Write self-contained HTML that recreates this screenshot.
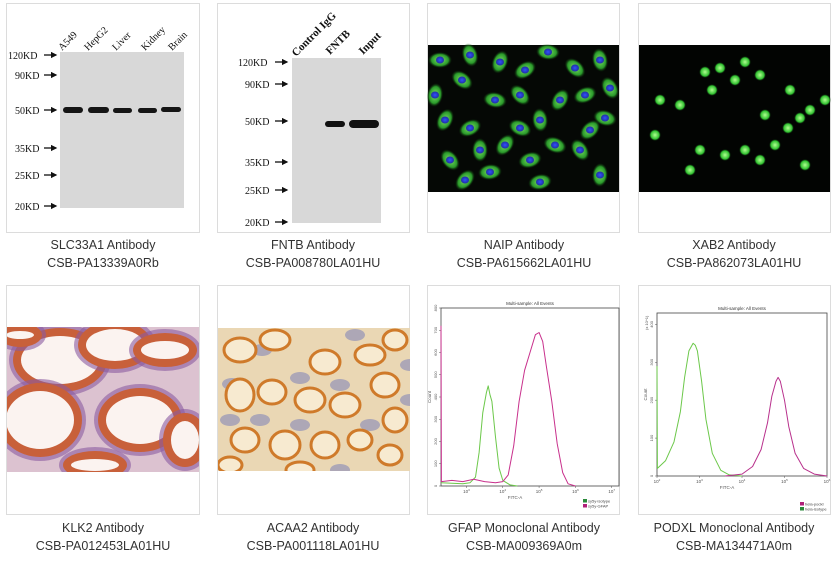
<!DOCTYPE html>
<html><head><meta charset="utf-8"><style>
body{margin:0;width:835px;height:570px;background:#fff;position:relative;overflow:hidden;font-family:"Liberation Sans",sans-serif}
.card{position:absolute;border:1px solid #dcdcdc;box-sizing:border-box;background:#fff}
.cap{position:absolute;width:210px;text-align:center;font-size:12.5px;line-height:18px;color:#333}
svg{position:absolute;left:0;top:0}
</style></head><body>
<div class="card" style="left:6px;top:3px;width:194px;height:230px"></div>
<div class="card" style="left:217px;top:3px;width:193px;height:230px"></div>
<div class="card" style="left:427px;top:3px;width:193px;height:230px"></div>
<div class="card" style="left:638px;top:3px;width:193px;height:230px"></div>
<div class="card" style="left:6px;top:285px;width:194px;height:230px"></div>
<div class="card" style="left:217px;top:285px;width:193px;height:230px"></div>
<div class="card" style="left:427px;top:285px;width:193px;height:230px"></div>
<div class="card" style="left:638px;top:285px;width:193px;height:230px"></div>

<div class="cap" style="left:-2px;top:236px">SLC33A1 Antibody<br>CSB-PA13339A0Rb</div>
<div class="cap" style="left:208px;top:236px">FNTB Antibody<br>CSB-PA008780LA01HU</div>
<div class="cap" style="left:419px;top:236px">NAIP Antibody<br>CSB-PA615662LA01HU</div>
<div class="cap" style="left:629px;top:236px">XAB2 Antibody<br>CSB-PA862073LA01HU</div>
<div class="cap" style="left:-2px;top:519px">KLK2 Antibody<br>CSB-PA012453LA01HU</div>
<div class="cap" style="left:208px;top:519px">ACAA2 Antibody<br>CSB-PA001118LA01HU</div>
<div class="cap" style="left:419px;top:519px">GFAP Monoclonal Antibody<br>CSB-MA009369A0m</div>
<div class="cap" style="left:629px;top:519px">PODXL Monoclonal Antibody<br>CSB-MA134471A0m</div>

<svg id="s" width="835" height="570" font-family="Liberation Serif, serif">
<defs>
<marker id="ar" markerWidth="5" markerHeight="5" refX="4" refY="2.5" orient="auto"><path d="M0,0L5,2.5L0,5z" fill="#111"/></marker>
<radialGradient id="gc"><stop offset="0" stop-color="#7fe06a"/><stop offset="0.7" stop-color="#2a9a2a"/><stop offset="1" stop-color="#0a300a" stop-opacity="0"/></radialGradient>
<radialGradient id="gn"><stop offset="0" stop-color="#b0ff90"/><stop offset="0.7" stop-color="#30c030"/><stop offset="1" stop-color="#082008" stop-opacity="0"/></radialGradient>
<radialGradient id="bn"><stop offset="0" stop-color="#3050ff"/><stop offset="1" stop-color="#2030a0"/></radialGradient>
</defs>
<g>
<rect x="60" y="52" width="124" height="156" fill="#d8d8d8"/>
<g font-size="10" fill="#111">
<text x="8" y="59">120KD</text><text x="15" y="79">90KD</text><text x="15" y="114">50KD</text><text x="15" y="152">35KD</text><text x="15" y="179">25KD</text><text x="15" y="210">20KD</text>
</g>
<g stroke="#111" stroke-width="1.3" marker-end="url(#ar)">
<line x1="44" y1="55" x2="56" y2="55"/><line x1="44" y1="75" x2="56" y2="75"/><line x1="44" y1="110" x2="56" y2="110"/><line x1="44" y1="148" x2="56" y2="148"/><line x1="44" y1="175" x2="56" y2="175"/><line x1="44" y1="206" x2="56" y2="206"/>
</g>
<g font-size="10" fill="#111">
<text transform="translate(62,51) rotate(-45)">A549</text><text transform="translate(88,51) rotate(-45)">HepG2</text><text transform="translate(116,51) rotate(-45)">Liver</text><text transform="translate(145,51) rotate(-45)">Kidney</text><text transform="translate(172,51) rotate(-45)">Brain</text>
</g>
<g fill="#151515"><rect x="63" y="107" width="20" height="6" rx="3"/><rect x="88" y="107" width="21" height="6" rx="3"/><rect x="113" y="108" width="19" height="5" rx="2.5"/><rect x="138" y="108" width="19" height="5" rx="2.5"/><rect x="161" y="107" width="20" height="5" rx="2.5"/></g>
</g>
<g>
<rect x="292" y="58" width="89" height="165" fill="#d8d8d8"/>
<g font-size="10" fill="#111">
<text x="238" y="66">120KD</text><text x="245" y="88">90KD</text><text x="245" y="125">50KD</text><text x="245" y="166">35KD</text><text x="245" y="194">25KD</text><text x="245" y="226">20KD</text>
</g>
<g stroke="#111" stroke-width="1.3" marker-end="url(#ar)">
<line x1="275" y1="62" x2="287" y2="62"/><line x1="275" y1="84" x2="287" y2="84"/><line x1="275" y1="121" x2="287" y2="121"/><line x1="275" y1="162" x2="287" y2="162"/><line x1="275" y1="190" x2="287" y2="190"/><line x1="275" y1="222" x2="287" y2="222"/>
</g>
<g font-size="11" font-weight="bold" fill="#111">
<text transform="translate(296,57) rotate(-45)">Control IgG</text><text transform="translate(330,55) rotate(-45)">FNTB</text><text transform="translate(363,55) rotate(-45)">Input</text>
</g>
<g fill="#111"><rect x="325" y="121" width="20" height="6" rx="3"/><rect x="349" y="120" width="30" height="8" rx="4"/></g>
</g>
<rect x="428" y="45" width="191" height="147" fill="#050805"/>
<g id="naip"></g>
<rect x="639" y="45" width="191" height="147" fill="#020402"/>
<g id="xab2"></g>
<clipPath id="c5"><rect x="7" y="327" width="192" height="145"/></clipPath>
<clipPath id="c6"><rect x="218" y="328" width="192" height="143"/></clipPath>
<g clip-path="url(#c5)">
<rect x="7" y="327" width="192" height="145" fill="#dcc2d0"/>
<g id="ihc1"></g>
</g>
<g clip-path="url(#c6)">
<rect x="218" y="328" width="192" height="143" fill="#ead7b4"/>
<g id="ihc2"></g>
</g>
<g id="charts" font-family="Liberation Sans, sans-serif"></g>
</svg>
<script>
// GFAP histogram data (log10 FITC, count)
const gfapIsoX=[2.3,2.6,2.9,3.1,3.25,3.35,3.45,3.55,3.6,3.65,3.7,3.8,3.9,4.0,4.2,4.4];
const gfapIsoY=[15,12,10,15,40,150,330,420,450,410,380,220,80,25,5,0];
const gfapPosX=[2.3,2.31,2.6,2.9,3.2,3.5,3.8,4.0,4.15,4.3,4.45,4.6,4.75,4.9,5.0,5.1,5.2,5.35,5.5,5.65,5.8,6.0];
const gfapPosY=[720,20,25,20,30,20,15,20,50,180,380,520,600,680,690,650,540,380,190,60,10,0];
const gfapYTicks=[0,100,200,300,400,500,600,700,800];
const gfapXTicks=[3,4,5,6,7];
// PODXL histogram data
const podIsoX=[2.0,2.01,2.2,2.4,2.55,2.65,2.75,2.85,2.9,2.95,3.05,3.15,3.3,3.5,3.7,4.0];
const podIsoY=[290,20,40,90,170,260,330,350,345,330,250,150,60,15,3,0];
const podPosX=[3.6,4.0,4.25,4.45,4.6,4.7,4.8,4.85,4.9,5.0,5.1,5.25,5.45,5.7,6.0];
const podPosY=[0,5,25,70,140,210,250,260,250,200,130,60,20,5,0];
const podYTicks=[0,100,200,300,400];
const podXTicks=[2,3,4,5,6];
const NS='http://www.w3.org/2000/svg';
const charts=document.getElementById('charts');
function mk(tag,attrs,parent){const e=document.createElementNS(NS,tag);for(const k in attrs)e.setAttribute(k,attrs[k]);(parent||charts).appendChild(e);return e;}
function hist(cfg){
  const g=mk('g',{});
  
  
  const sx=v=>cfg.x0+(v-cfg.lmin)/(cfg.lmax-cfg.lmin)*(cfg.x1-cfg.x0);
  const sy=v=>cfg.y0-(v/cfg.ymax)*(cfg.y0-cfg.y1);
  const fr=mk('rect',{x:cfg.x0,y:cfg.y1,width:cfg.x1-cfg.x0,height:cfg.y0-cfg.y1,fill:'none',stroke:'#444','stroke-width':0.8},g);
  
  
  const t=mk('text',{x:(cfg.x0+cfg.x1)/2,y:cfg.y1-3,'font-size':4.5,'text-anchor':'middle',fill:'#333'},g);t.textContent='Multi-sample: All Events';
  
  
  cfg.yt.forEach(v=>{mk('line',{x1:cfg.x0-2,x2:cfg.x0,y1:sy(v),y2:sy(v),stroke:'#555','stroke-width':0.5},g);
    const l=mk('text',{x:cfg.x0-4,y:sy(v),'font-size':4,fill:'#555',transform:`rotate(-90 ${cfg.x0-4} ${sy(v)})`,'text-anchor':'middle'},g);l.textContent=v;
    
    });
  cfg.xt.forEach(v=>{mk('line',{x1:sx(v),x2:sx(v),y1:cfg.y0,y2:cfg.y0+2,stroke:'#555','stroke-width':0.5},g);
    const l=mk('text',{x:sx(v),y:cfg.y0+7,'font-size':4.5,fill:'#555','text-anchor':'middle'},g);l.textContent='10';
    const s=mk('tspan',{'font-size':3,dy:-2},l);s.textContent=v;
    
    });
  const xl=mk('text',{x:(cfg.x0+cfg.x1)/2-15,y:cfg.y0+13,'font-size':4.5,fill:'#555','text-anchor':'middle'},g);xl.textContent='FITC-A';
  
  
  const yl=mk('text',{x:cfg.x0-10,y:(cfg.y0+cfg.y1)/2,'font-size':4.5,fill:'#555','text-anchor':'middle',transform:`rotate(-90 ${cfg.x0-10} ${(cfg.y0+cfg.y1)/2})`},g);yl.textContent='Count';
  
  
  cfg.series.forEach(s=>{
    const d=s.x.map((v,i)=>(i?'L':'M')+sx(v).toFixed(1)+','+sy(s.y[i]).toFixed(1)).join('');
    const p=mk('path',{d:d,fill:'none',stroke:s.c,'stroke-width':1,'stroke-linejoin':'round'},g);
    
    
  });
  cfg.legend.forEach((s,i)=>{
    mk('rect',{x:cfg.lx,y:cfg.ly+i*5,width:4,height:3.5,fill:s.c},g);
    const lt=mk('text',{x:cfg.lx+5,y:cfg.ly+i*5+3.3,'font-size':4,fill:'#444'},g);lt.textContent=s.n;
    
    
  });
}
hist({name:'gfap-histogram',x0:441,x1:619,y0:486,y1:308,lmin:2.3,lmax:7.2,ymax:800,yt:gfapYTicks,xt:gfapXTicks,
  series:[{x:gfapIsoX,y:gfapIsoY,c:'#6cc84a',n:'isotype-series'},{x:gfapPosX,y:gfapPosY,c:'#c8308c',n:'gfap-series'}],
  legend:[{c:'#2a8a3a',n:'sy5y-isotype'},{c:'#b0207a',n:'sy5y-GFAP'}],lx:583,ly:499});
hist({name:'podxl-histogram',x0:657,x1:827,y0:476,y1:313,lmin:2,lmax:6,ymax:430,yt:podYTicks,xt:podXTicks,
  series:[{x:podIsoX,y:podIsoY,c:'#6cc84a',n:'isotype-series'},{x:podPosX,y:podPosY,c:'#b8308c',n:'podxl-series'}],
  legend:[{c:'#b0207a',n:'hela-podxl'},{c:'#2a8a3a',n:'hela-isotype'}],lx:800,ly:502});
const pt=mk('text',{x:648,y:330,'font-size':4,fill:'#555',transform:'rotate(-90 648 330)'});pt.textContent='(x 10^1)';
const naipG=document.getElementById('naip');
const naipCells=[[440,60],[462,80],[470,55],[500,62],[525,70],[548,52],[575,68],[600,60],[445,120],[470,128],[495,100],[520,95],[540,120],[560,100],[585,95],[605,118],[450,160],[480,150],[505,145],[530,160],[555,145],[580,150],[600,175],[465,180],[540,182],[520,128],[610,88],[435,95],[590,130],[490,172]];
naipCells.forEach((c,i)=>{mk('ellipse',{cx:c[0],cy:c[1],rx:12,ry:8,fill:'url(#gc)',transform:`rotate(${(i*37)%180} ${c[0]} ${c[1]})`},naipG);mk('ellipse',{cx:c[0],cy:c[1],rx:4,ry:3.5,fill:'url(#bn)'},naipG);});
const xG=document.getElementById('xab2');
const xCells=[[705,72],[720,68],[735,80],[712,90],[745,62],[760,75],[790,90],[680,105],[660,100],[765,115],[800,118],[788,128],[810,110],[825,100],[700,150],[725,155],[760,160],[745,150],[775,145],[690,170],[805,165],[655,135]];
xCells.forEach(c=>mk('circle',{cx:c[0],cy:c[1],r:6,fill:'url(#gn)'},xG));
const i1=document.getElementById('ihc1');
[[60,360,45,30],[115,345,35,22],[165,350,30,15],[40,420,40,35],[140,420,40,30],[185,440,20,25],[95,465,30,12],[20,335,20,10]].forEach(b=>{
  mk('ellipse',{cx:b[0],cy:b[1],rx:b[2]+6,ry:b[3]+6,fill:'#8a5aa0',opacity:0.6},i1);
  mk('ellipse',{cx:b[0],cy:b[1],rx:b[2]+2,ry:b[3]+2,fill:'#c8603a'},i1);
  mk('ellipse',{cx:b[0],cy:b[1],rx:b[2]-6,ry:b[3]-6,fill:'#fbf3f0'},i1);
});
const i2=document.getElementById('ihc2');
[[232,384],[300,378],[340,385],[260,420],[300,425],[370,425],[230,420],[340,470],[410,400],[355,335],[262,350],[410,365]].forEach(c=>mk('ellipse',{cx:c[0],cy:c[1],rx:10,ry:6,fill:'#7a80b8',opacity:0.55},i2));
[[240,350,16,12],[275,340,15,10],[325,362,15,12],[370,355,15,10],[395,340,12,10],[240,395,14,16],[272,392,14,12],[310,400,15,12],[345,405,15,12],[385,385,14,12],[395,420,12,12],[245,440,14,12],[285,445,15,14],[325,445,14,13],[360,440,12,10],[390,455,12,10],[230,465,12,8],[300,470,14,8]].forEach(b=>{
  mk('ellipse',{cx:b[0],cy:b[1],rx:b[2],ry:b[3],fill:'#f7ead0',stroke:'#cf7a2a','stroke-width':3},i2);
});
</script>
</body></html>
